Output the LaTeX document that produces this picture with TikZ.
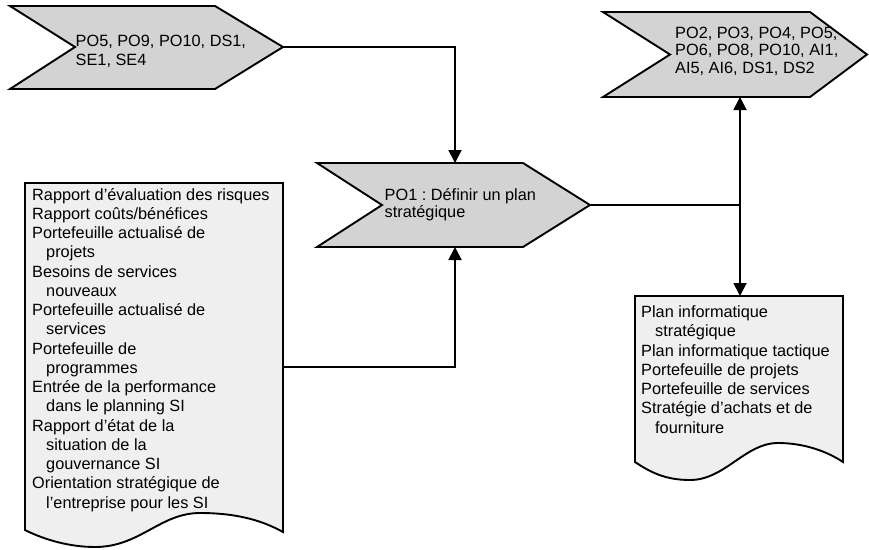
\documentclass[tikz,border=0pt]{standalone}
\usepackage{fontspec}
\setmainfont{Liberation Sans}
\usetikzlibrary{arrows.meta}

\definecolor{chevfill}{RGB}{211,211,211}
\definecolor{docfill}{RGB}{238,239,238}

% a stack of text lines whose first baseline is the node's base
\newcommand\linestack[2]{\vtop{\baselineskip=#1pt\lineskiplimit=-20pt\lineskip=0pt\relax #2}}
\newcommand\rowtext[1]{\hbox{#1}}
\newcommand\subrow[1]{\hbox{\kern14pt #1}}

\tikzset{
  outline/.style={draw=black, line width=1.9pt, line join=miter},
  chevron/.style={outline, fill=chevfill},
  document/.style={outline, fill=docfill},
  label/.style={anchor=base west, inner sep=0pt, font=\fontsize{16.3pt}{19.25pt}\selectfont\frenchspacing},
  link/.style={draw=black, line width=1.9pt},
  arrowlink/.style={link, -{Triangle[length=13pt,width=13pt]}},
  twoway/.style={link, {Triangle[length=13pt,width=13pt]}-{Triangle[length=13pt,width=13pt]}}
}

\begin{document}
\begin{tikzpicture}[x=1pt,y=-1pt]
\useasboundingbox (0,0) rectangle (869,549);

% input chevron, upper left
\draw[chevron] (10,6) -- (215,6) -- (283,47) -- (215,89) -- (10,89) -- (75,47) -- cycle;
\coordinate (a-tip) at (283,47);
\node[label] (a-text) at (75.5,46.7) {\linestack{18.3}{\rowtext{PO5, PO9, PO10, DS1,}\rowtext{SE1, SE4}}};

% process chevron, centre
\draw[chevron] (317,163) -- (523,163) -- (590,205) -- (523,247) -- (317,247) -- (382,205) -- cycle;
\coordinate (b-tip) at (590,205);
\coordinate (b-in-top) at (455,163);
\coordinate (b-in-bottom) at (455,247);
\node[label] (b-text) at (384.5,200) {\linestack{17.3}{\rowtext{PO1 : Définir un plan}\rowtext{stratégique}}};

% output chevron, upper right
\draw[chevron] (603,12) -- (810,12) -- (867,54.5) -- (810,97) -- (603,97) -- (670,54.5) -- cycle;
\coordinate (c-in) at (740,97);
\node[label] (c-text) at (675,38.3) {\linestack{17.5}{\rowtext{PO2, PO3, PO4, PO5,}\rowtext{PO6, PO8, PO10, AI1,}\rowtext{AI5, AI6, DS1, DS2}}};

% input document, left
\draw[document] (25,183) -- (283,183) -- (283,532)
  .. controls (265,522) and (240,513) .. (200,513)
  .. controls (160,513) and (140,547) .. (95,547)
  .. controls (70,547) and (45,540) .. (25,530) -- cycle;
\coordinate (d1-out) at (283,367);
\node[label] (d1-text) at (32,200) {\linestack{19.25}{%
  \rowtext{Rapport d’évaluation des risques}%
  \rowtext{Rapport coûts/bénéfices}%
  \rowtext{Portefeuille actualisé de}%
  \subrow{projets}%
  \rowtext{Besoins de services}%
  \subrow{nouveaux}%
  \rowtext{Portefeuille actualisé de}%
  \subrow{services}%
  \rowtext{Portefeuille de}%
  \subrow{programmes}%
  \rowtext{Entrée de la performance}%
  \subrow{dans le planning SI}%
  \rowtext{Rapport d’état de la}%
  \subrow{situation de la}%
  \subrow{gouvernance SI}%
  \rowtext{Orientation stratégique de}%
  \subrow{l’entreprise pour les SI}}};

% output document, right
\draw[document] (635,296) -- (843,296) -- (843,462)
  .. controls (828,452) and (805,443) .. (778,443)
  .. controls (745,443) and (725,480) .. (690,480)
  .. controls (665,480) and (650,472) .. (635,462) -- cycle;
\coordinate (d2-in) at (740,296);
\node[label] (d2-text) at (641,317.7) {\linestack{19.25}{%
  \rowtext{Plan informatique}%
  \subrow{stratégique}%
  \rowtext{Plan informatique tactique}%
  \rowtext{Portefeuille de projets}%
  \rowtext{Portefeuille de services}%
  \rowtext{Stratégie d’achats et de}%
  \subrow{fourniture}}};

% connectors
\coordinate (split) at (740,205);
\draw[arrowlink] (a-tip) -| (b-in-top);
\draw[arrowlink] (d1-out) -| (b-in-bottom);
\draw[link] (b-tip) -- (split);
\draw[twoway] (c-in) -- (d2-in);
\end{tikzpicture}
\end{document}
